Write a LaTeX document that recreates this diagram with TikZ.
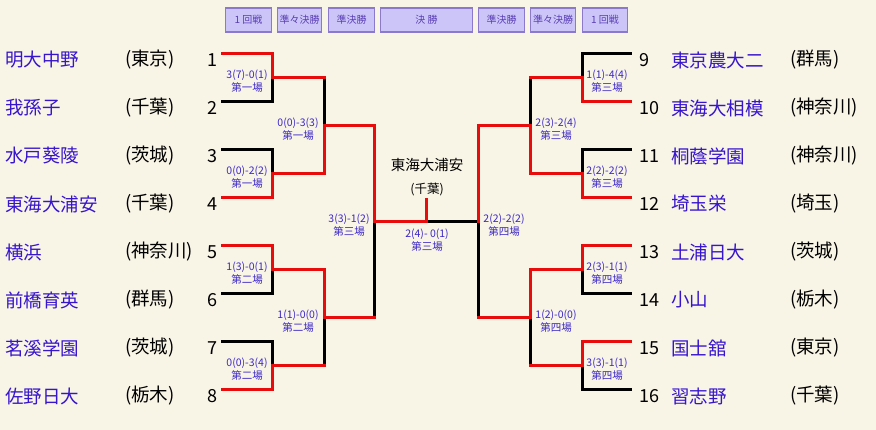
\documentclass[tikz,border=0pt]{standalone}
\usepackage{fontspec}
\setmainfont{Noto Sans CJK JP}
\definecolor{PaperCream}{RGB}{248,244,230}
\definecolor{WinRed}{RGB}{232,12,12}
\definecolor{SchoolBlue}{RGB}{55,20,205}
\definecolor{ScoreBlue}{RGB}{60,40,200}
\definecolor{TabFill}{RGB}{204,198,248}
\definecolor{TabEdge}{RGB}{140,120,205}
\definecolor{TabText}{RGB}{90,62,180}

\begin{document}
\begin{tikzpicture}[x=1pt, y=-1pt,
    school/.style={anchor=west, inner sep=0pt, text=SchoolBlue, font=\fontsize{18.5}{20}\selectfont},
    pref/.style={anchor=west, inner sep=0pt, font=\fontsize{18.5}{20}\selectfont},
    seed/.style={inner sep=0pt, font=\fontsize{18}{20}\selectfont},
    score/.style={align=center, inner sep=0pt, text=ScoreBlue, font=\fontsize{10.5}{13}\selectfont},
    tab/.style={rectangle, draw=TabEdge, fill=TabFill, line width=1.5pt, text=TabText, minimum height=24pt, inner sep=0pt, font=\fontsize{10}{12}\selectfont},
    win/.style={draw=WinRed, line width=3pt, line cap=rect},
    lose/.style={draw=black, line width=3pt, line cap=rect}
  ]
  \fill[PaperCream] (0,0) rectangle (876,430);
  \useasboundingbox (0,0) rectangle (876,430);

  % round tabs
  \node[tab, minimum width=46pt] (t1L) at (248.5,20) {1 回戦};
  \node[tab, minimum width=44pt] (t2L) at (299.5,20) {準々決勝};
  \node[tab, minimum width=46pt] (t3L) at (351.5,20) {準決勝};
  \node[tab, minimum width=92pt] (t4) at (426.5,20) {決 勝};
  \node[tab, minimum width=46pt] (t3R) at (501.5,20) {準決勝};
  \node[tab, minimum width=45pt] (t2R) at (553,20) {準々決勝};
  \node[tab, minimum width=45pt] (t1R) at (605,20) {1 回戦};

  % left half
  \node[school] (hs1) at (5,60) {明大中野};   \node[pref] (pf1) at (125,60) {(東京)};   \node[seed] (no1) at (212,60) {1};
  \node[school] (hs2) at (5,108) {我孫子};    \node[pref] (pf2) at (125,108) {(千葉)};  \node[seed] (no2) at (212,108) {2};
  \node[school] (hs3) at (5,156) {水戸葵陵};  \node[pref] (pf3) at (125,156) {(茨城)};  \node[seed] (no3) at (212,156) {3};
  \node[school] (hs4) at (5,204) {東海大浦安}; \node[pref] (pf4) at (125,204) {(千葉)}; \node[seed] (no4) at (212,204) {4};
  \node[school] (hs5) at (5,252) {横浜};      \node[pref] (pf5) at (125,252) {(神奈川)}; \node[seed] (no5) at (212,252) {5};
  \node[school] (hs6) at (5,300) {前橋育英};  \node[pref] (pf6) at (125,300) {(群馬)};  \node[seed] (no6) at (212,300) {6};
  \node[school] (hs7) at (5,348) {茗溪学園};  \node[pref] (pf7) at (125,348) {(茨城)};  \node[seed] (no7) at (212,348) {7};
  \node[school] (hs8) at (5,396) {佐野日大};  \node[pref] (pf8) at (125,396) {(栃木)};  \node[seed] (no8) at (212,396) {8};

  % right half
  \node[seed, anchor=west] (no9) at (639,60) {9};    \node[school] (hs9) at (671,60) {東京農大二};  \node[pref] (pf9) at (790,60) {(群馬)};
  \node[seed, anchor=west] (no10) at (639,108) {10}; \node[school] (hs10) at (671,108) {東海大相模}; \node[pref] (pf10) at (790,108) {(神奈川)};
  \node[seed, anchor=west] (no11) at (639,156) {11}; \node[school] (hs11) at (671,156) {桐蔭学園};   \node[pref] (pf11) at (790,156) {(神奈川)};
  \node[seed, anchor=west] (no12) at (639,204) {12}; \node[school] (hs12) at (671,204) {埼玉栄};     \node[pref] (pf12) at (790,204) {(埼玉)};
  \node[seed, anchor=west] (no13) at (639,252) {13}; \node[school] (hs13) at (671,252) {土浦日大};   \node[pref] (pf13) at (790,252) {(茨城)};
  \node[seed, anchor=west] (no14) at (639,300) {14}; \node[school] (hs14) at (671,300) {小山};       \node[pref] (pf14) at (790,300) {(栃木)};
  \node[seed, anchor=west] (no15) at (639,348) {15}; \node[school] (hs15) at (671,348) {国士舘};     \node[pref] (pf15) at (790,348) {(東京)};
  \node[seed, anchor=west] (no16) at (639,396) {16}; \node[school] (hs16) at (671,396) {習志野};     \node[pref] (pf16) at (790,396) {(千葉)};

  % champion
  \node[font=\fontsize{14.5}{16}\selectfont] (champ) at (427,165) {東海大浦安};
  \node[font=\fontsize{12.5}{14}\selectfont] (champpref) at (427,189) {(千葉)};

  % line ends and junctions
  \coordinate (e1) at (222,54);  \coordinate (e2) at (222,102); \coordinate (e3) at (222,150); \coordinate (e4) at (222,198);
  \coordinate (e5) at (222,246); \coordinate (e6) at (222,294); \coordinate (e7) at (222,342); \coordinate (e8) at (222,390);
  \coordinate (e9) at (630,54);   \coordinate (e10) at (630,102); \coordinate (e11) at (630,150); \coordinate (e12) at (630,198);
  \coordinate (e13) at (630,246); \coordinate (e14) at (630,294); \coordinate (e15) at (630,342); \coordinate (e16) at (630,390);
  \coordinate (j12) at (272,78);  \coordinate (j34) at (272,174); \coordinate (j56) at (272,270); \coordinate (j78) at (272,366);
  \coordinate (k14) at (324,126); \coordinate (k58) at (324,318);
  \coordinate (m18) at (374,222);
  \coordinate (fin) at (426,222); \coordinate (cup) at (426,200);
  \coordinate (m916) at (478,222);
  \coordinate (k912) at (530,126); \coordinate (k1316) at (530,318);
  \coordinate (j910) at (582,78);  \coordinate (j1112) at (582,174); \coordinate (j1314) at (582,270); \coordinate (j1516) at (582,366);

  % losers
  \draw[lose] (e2) -| (j12);
  \draw[lose] (e3) -| (j34);
  \draw[lose] (e6) -| (j56);
  \draw[lose] (e7) -| (j78);
  \draw[lose] (j12 -| k14) -- (k14);
  \draw[lose] (j78 -| k58) -- (k58);
  \draw[lose] (k58 -| m18) -- (m18) -- (m916);
  \draw[lose] (e9) -| (j910);
  \draw[lose] (e11) -| (j1112);
  \draw[lose] (e14) -| (j1314);
  \draw[lose] (e16) -| (j1516);
  \draw[lose] (j910 -| k912) -- (k912);
  \draw[lose] (j1516 -| k1316) -- (k1316);
  \draw[lose] (k1316 -| m916) -- (m916);

  % winners
  \draw[win] (e1) -| (j12) -- (j12 -| k14);
  \draw[win] (e4) -| (j34) -- (j34 -| k14) -- (k14) -- (k14 -| m18) -- (m18) -- (fin) -- (cup);
  \draw[win] (e5) -| (j56) -- (j56 -| k58) -- (k58) -- (k58 -| m18);
  \draw[win] (e8) -| (j78) -- (j78 -| k58);
  \draw[win] (e10) -| (j910) -- (j910 -| k912);
  \draw[win] (e12) -| (j1112) -- (j1112 -| k912) -- (k912) -- (k912 -| m916) -- (m916);
  \draw[win] (e13) -| (j1314) -- (j1314 -| k1316) -- (k1316) -- (k1316 -| m916);
  \draw[win] (e15) -| (j1516) -- (j1516 -| k1316);

  % scores
  \node[score] (g12) at (247,81) {3(7)-0(1)\\第一場};
  \node[score] (g34) at (247,177) {0(0)-2(2)\\第一場};
  \node[score] (g56) at (247,273) {1(3)-0(1)\\第二場};
  \node[score] (g78) at (247,369) {0(0)-3(4)\\第二場};
  \node[score] (g14) at (298,129) {0(0)-3(3)\\第一場};
  \node[score] (g58) at (298,321) {1(1)-0(0)\\第二場};
  \node[score] (g18) at (349,225) {3(3)-1(2)\\第三場};
  \node[score] (gfin) at (427,240) {2(4)- 0(1)\\第三場};
  \node[score] (g916) at (504,225) {2(2)-2(2)\\第四場};
  \node[score] (g912) at (556,129) {2(3)-2(4)\\第三場};
  \node[score] (g1316) at (556,321) {1(2)-0(0)\\第四場};
  \node[score] (g910) at (607,81) {1(1)-4(4)\\第三場};
  \node[score] (g1112) at (607,177) {2(2)-2(2)\\第三場};
  \node[score] (g1314) at (607,273) {2(3)-1(1)\\第四場};
  \node[score] (g1516) at (607,369) {3(3)-1(1)\\第四場};
\end{tikzpicture}
\end{document}
